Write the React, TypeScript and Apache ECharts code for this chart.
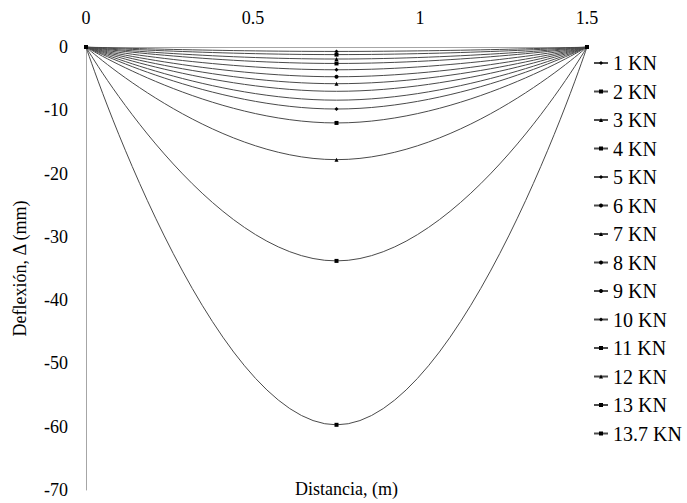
import React, { useEffect, useRef } from "react";
import * as echarts from "echarts";

// Beam deflection under increasing point loads (supports at 0 and 1.5 m, midspan at 0.75 m)
const positions = [0, 0.75, 1.5];
const loadLabels = [
  "1 KN", "2 KN", "3 KN", "4 KN", "5 KN", "6 KN", "7 KN",
  "8 KN", "9 KN", "10 KN", "11 KN", "12 KN", "13 KN", "13.7 KN",
];
// Midspan deflection (mm) for each load
const midspanDeflection = [
  -0.7, -1.2, -1.9, -2.6, -3.6, -4.7, -5.8,
  -7.0, -8.4, -9.8, -12.0, -17.8, -33.8, -59.7,
];
const markerShapes = [
  "diamond", "rect", "triangle", "rect", "diamond", "circle", "triangle",
  "none", "none", "diamond", "rect", "triangle", "rect", "rect",
];
const xTicks = [0, 0.5, 1, 1.5];
const yTicks = [0, -10, -20, -30, -40, -50, -60, -70];

const FONT = "Liberation Serif";

export default function App() {
  const ref = useRef<HTMLDivElement>(null);

  useEffect(() => {
    if (!ref.current) return;
    const chart = echarts.init(ref.current, null, { renderer: "svg" });

    const series = loadLabels.map((name, i) => ({
      name,
      type: "line" as const,
      smooth: 0.5,
      data: positions.map((x, j) => [x, j === 1 ? midspanDeflection[i] : 0]),
      symbol: markerShapes[i],
      symbolSize: 4,
      showAllSymbol: true,
      lineStyle: { color: "#4a4a4a", width: 1 },
      itemStyle: { color: "#000" },
      emphasis: { disabled: true },
    }));

    chart.setOption({
      animation: false,
      backgroundColor: "#fff",
      textStyle: { fontFamily: FONT },
      grid: { left: 86, right: 100, top: 47, bottom: 13, containLabel: false },
      xAxis: {
        type: "value",
        position: "top",
        min: xTicks[0],
        max: xTicks[xTicks.length - 1],
        interval: 0.5,
        axisLine: { show: true, lineStyle: { color: "#a6a6a6", width: 1 } },
        axisTick: { show: false },
        splitLine: { show: false },
        axisLabel: {
          color: "#000",
          fontSize: 18,
          fontFamily: FONT,
          margin: 20,
          formatter: (v: number) => String(v),
        },
      },
      yAxis: {
        type: "value",
        min: yTicks[yTicks.length - 1],
        max: yTicks[0],
        interval: 10,
        axisLine: { show: true, lineStyle: { color: "#a6a6a6", width: 1 } },
        axisTick: { show: false },
        splitLine: { show: false },
        axisLabel: { color: "#000", fontSize: 18, fontFamily: FONT, margin: 18 },
        name: "Deflexión, Δ (mm)",
        nameLocation: "middle",
        nameGap: 57,
        nameTextStyle: { color: "#000", fontSize: 18, fontFamily: FONT },
      },
      legend: {
        orient: "vertical",
        left: 593,
        top: 53,
        padding: 0,
        itemWidth: 14,
        itemHeight: 5,
        itemGap: 8.5,
        textStyle: { color: "#000", fontSize: 20, fontFamily: FONT },
        data: loadLabels,
      },
      graphic: [
        {
          type: "text",
          left: 295,
          top: 480,
          style: { text: "Distancia, (m)", fill: "#000", font: `18px ${FONT}` },
        },
      ],
      series,
    });

    return () => chart.dispose();
  }, []);

  return (
    <div
      ref={ref}
      style={{ position: "fixed", left: 0, top: 0, width: 687, height: 503 }}
    />
  );
}
